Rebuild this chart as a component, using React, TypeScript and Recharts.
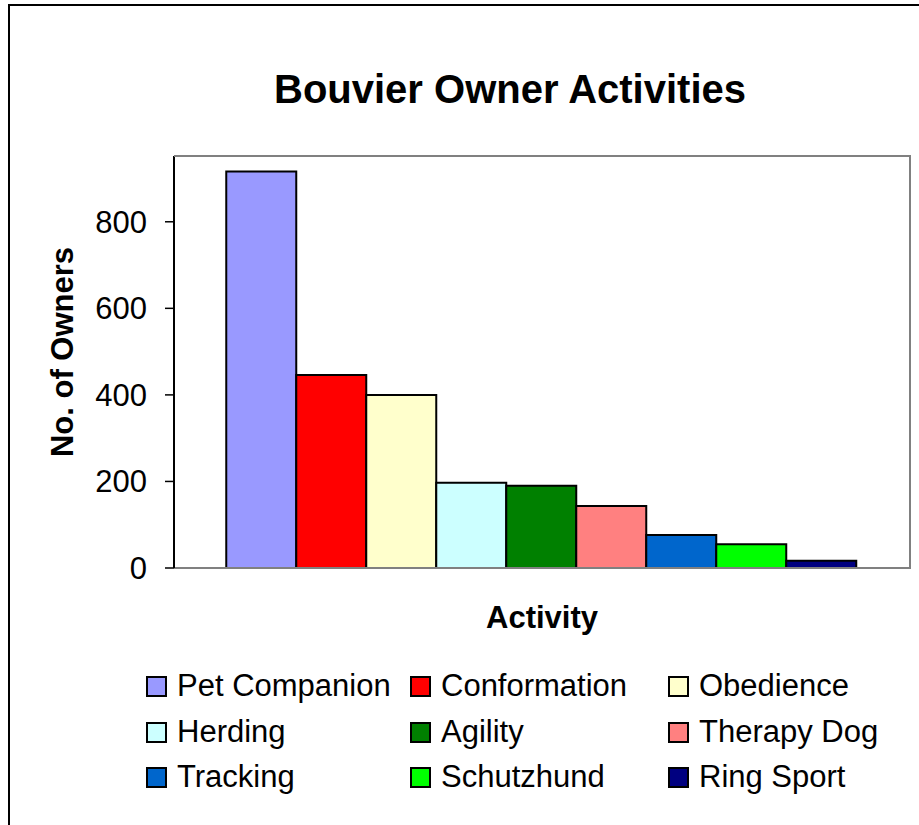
import { Bar, BarChart, XAxis, YAxis } from "recharts";

const activities = [
  "Pet Companion",
  "Conformation",
  "Obedience",
  "Herding",
  "Agility",
  "Therapy Dog",
  "Tracking",
  "Schutzhund",
  "Ring Sport",
];
const owners = [916, 446, 400, 197, 190, 143, 76, 55, 17];
const colors = [
  "#9999FF",
  "#FF0000",
  "#FFFFCC",
  "#CCFFFF",
  "#008000",
  "#FF8080",
  "#0066CC",
  "#00FF00",
  "#000080",
];
const yTicks = [0, 200, 400, 600, 800];

const row: Record<string, string | number> = { name: "Activity" };
activities.forEach((a, i) => {
  row[a] = owners[i];
});
const data = [row];

const font = '"Liberation Sans", Arial, sans-serif';
const legendCols = [146, 410, 668];
const legendRows = [686, 732, 777];

function YLabel() {
  return (
    <text
      x={62}
      y={352}
      transform="rotate(-90, 62, 352)"
      textAnchor="middle"
      dominantBaseline="central"
      fontSize={31}
      fontWeight="bold"
      fontFamily={font}
      fill="#000"
    >
      No. of Owners
    </text>
  );
}

export default function App() {
  return (
    <div
      style={{
        position: "fixed",
        left: 0,
        top: 0,
        width: 919,
        height: 825,
        background: "#fff",
        overflow: "hidden",
        fontFamily: font,
      }}
    >
      <div
        style={{
          position: "absolute",
          left: 8,
          top: 4,
          width: 930,
          height: 840,
          borderLeft: "2px solid #000",
          borderTop: "2px solid #000",
        }}
      />
      <div
        style={{
          position: "absolute",
          left: 0,
          width: 1020,
          top: 66,
          textAlign: "center",
          fontSize: 40,
          fontWeight: "bold",
          lineHeight: "46px",
        }}
      >
        Bouvier Owner Activities
      </div>
      <div style={{ position: "absolute", left: 0, top: 0 }}>
        <BarChart
          width={919}
          height={825}
          data={data}
          margin={{ top: 156, right: 9, bottom: 177, left: 0 }}
          barGap={0}
          barCategoryGap="7.1%"
        >
          <XAxis
            dataKey="name"
            tick={false}
            tickLine={false}
            height={80}
            axisLine={{ stroke: "#808080", strokeWidth: 2 }}
            label={{
              value: "Activity",
              position: "insideTop",
              offset: 38,
              fill: "#000",
              fontSize: 31,
              fontWeight: "bold",
              fontFamily: font,
            }}
          />
          <YAxis
            width={174}
            domain={[0, 952]}
            ticks={yTicks}
            allowDataOverflow
            axisLine={{ stroke: "#000", strokeWidth: 2 }}
            tickLine={{ stroke: "#000", strokeWidth: 1.5 }}
            tickSize={9}
            tickMargin={18}
            tick={{ fill: "#000", fontSize: 31, fontFamily: font }}
            label={<YLabel />}
          />
          {activities.map((a, i) => (
            <Bar
              key={a}
              dataKey={a}
              fill={colors[i]}
              stroke="#000"
              strokeWidth={2}
              isAnimationActive={false}
            />
          ))}
        </BarChart>
      </div>
      <div
        style={{
          position: "absolute",
          left: 174,
          top: 155,
          width: 735,
          height: 412,
          borderTop: "2px solid #808080",
          borderRight: "2px solid #808080",
          pointerEvents: "none",
        }}
      />
      {activities.map((a, i) => (
        <div
          key={a}
          style={{
            position: "absolute",
            left: legendCols[i % 3],
            top: legendRows[Math.floor(i / 3)] - 20,
            height: 40,
            display: "flex",
            alignItems: "center",
            fontSize: 31,
            whiteSpace: "nowrap",
          }}
        >
          <span
            style={{
              display: "inline-block",
              width: 17,
              height: 17,
              background: colors[i],
              border: "2px solid #000",
              marginRight: 10,
            }}
          />
          {a}
        </div>
      ))}
    </div>
  );
}
